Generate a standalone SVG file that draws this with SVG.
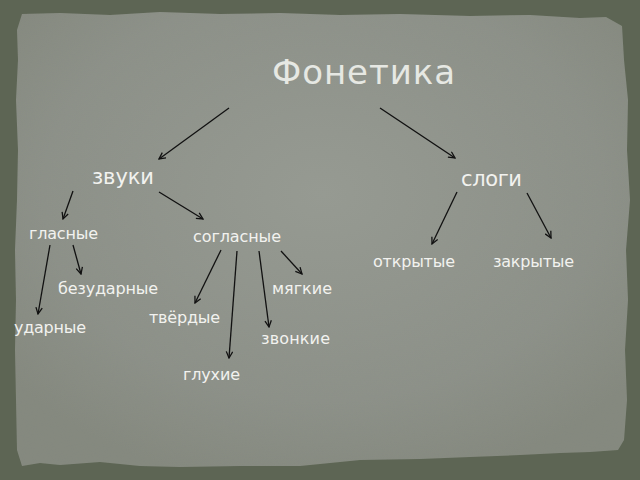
<svg xmlns="http://www.w3.org/2000/svg" width="640" height="480" viewBox="0 0 640 480">
<style>
.t{font-family:"DejaVu Sans","Noto Sans",sans-serif;fill:#f2f2ef;font-size:16px}
.big{font-size:21px}
.title{font-size:34px;fill:#e6e8e3}
.c line{stroke:#111;stroke-width:1.3;fill:none;marker-end:url(#ah)}
</style>
<defs>
<marker id="ah" viewBox="0 0 10 10" refX="9" refY="5" markerWidth="8" markerHeight="8" markerUnits="userSpaceOnUse" orient="auto">
<path d="M1,1 L9,5 L1,9" fill="none" stroke="#111" stroke-width="1.6"/>
</marker>
<radialGradient id="pg" cx="50%" cy="40%" r="65%">
<stop offset="0" stop-color="#969a92"/>
<stop offset="0.7" stop-color="#8c9088"/>
<stop offset="1" stop-color="#84887e"/>
</radialGradient>
<filter id="nz" x="0" y="0" width="100%" height="100%">
<feTurbulence type="fractalNoise" baseFrequency="0.9" numOctaves="2" seed="3" result="n"/>
<feColorMatrix type="matrix" values="0 0 0 0 0.3  0 0 0 0 0.32  0 0 0 0 0.28  0 0 0 0.1 0" in="n" result="c"/>
<feComposite in="c" in2="SourceGraphic" operator="in"/>
</filter>
</defs>
<rect id="bg" width="640" height="480" fill="#5d6554"/>
<g id="paper">
<path d="M22,14 L60,13 L110,15 L160,12 L220,14 L280,13 L340,15 L400,14 L470,16 L530,15 L580,18 L606,17 L622,26 L624,60 L628,100 L627,150 L630,200 L626,250 L628,300 L625,350 L627,400 L624,440 L618,450 L590,452 L560,453 L520,455 L470,457 L420,459 L360,460 L300,466 L240,466 L180,467 L140,466 L100,462 L60,465 L40,463 L22,466 L17,450 L16,400 L15,350 L16,300 L15,250 L17,200 L18,150 L16,100 L18,60 L17,30 Z" fill="url(#pg)"/>
<path d="M22,14 L60,13 L110,15 L160,12 L220,14 L280,13 L340,15 L400,14 L470,16 L530,15 L580,18 L606,17 L622,26 L624,60 L628,100 L627,150 L630,200 L626,250 L628,300 L625,350 L627,400 L624,440 L618,450 L590,452 L560,453 L520,455 L470,457 L420,459 L360,460 L300,466 L240,466 L180,467 L140,466 L100,462 L60,465 L40,463 L22,466 L17,450 L16,400 L15,350 L16,300 L15,250 L17,200 L18,150 L16,100 L18,60 L17,30 Z" fill="#888" filter="url(#nz)"/>
</g>
<g id="title"><text class="t title" x="272" y="84" textLength="183" lengthAdjust="spacing">Фонетика</text></g>
<g class="c" id="connectors">
<line x1="229" y1="108" x2="159" y2="159"/>
<line x1="380" y1="108" x2="455" y2="158"/>
<line x1="73" y1="191" x2="63" y2="219"/>
<line x1="159" y1="192" x2="203" y2="219"/>
<line x1="457" y1="192" x2="432" y2="244"/>
<line x1="527" y1="193" x2="551" y2="238"/>
<line x1="50" y1="245" x2="38" y2="314"/>
<line x1="73" y1="245" x2="81" y2="274"/>
<line x1="221" y1="250" x2="195" y2="303"/>
<line x1="237" y1="251" x2="229" y2="358"/>
<line x1="259" y1="251" x2="269" y2="327"/>
<line x1="281" y1="251" x2="302" y2="274"/>
</g>
<g id="zvuki"><text class="t big" x="92" y="184" textLength="62" lengthAdjust="spacing">звуки</text></g>
<g id="slogi"><text class="t big" x="461" y="186" textLength="61" lengthAdjust="spacing">слоги</text></g>
<g id="glasnye"><text class="t" x="29" y="239" textLength="69" lengthAdjust="spacing">гласные</text></g>
<g id="soglasnye"><text class="t" x="193" y="242" textLength="88" lengthAdjust="spacing">согласные</text></g>
<g id="otkrytye"><text class="t" x="373" y="267" textLength="82" lengthAdjust="spacing">открытые</text></g>
<g id="zakrytye"><text class="t" x="493" y="267" textLength="81" lengthAdjust="spacing">закрытые</text></g>
<g id="bezudarnye"><text class="t" x="58" y="294" textLength="100" lengthAdjust="spacing">безударные</text></g>
<g id="myagkie"><text class="t" x="272" y="294" textLength="60" lengthAdjust="spacing">мягкие</text></g>
<g id="tvyordye"><text class="t" x="149" y="323" textLength="71" lengthAdjust="spacing">твёрдые</text></g>
<g id="udarnye"><text class="t" x="14" y="333" textLength="72" lengthAdjust="spacing">ударные</text></g>
<g id="zvonkie"><text class="t" x="261" y="344" textLength="69" lengthAdjust="spacing">звонкие</text></g>
<g id="glukhie"><text class="t" x="183" y="380" textLength="57" lengthAdjust="spacing">глухие</text></g>
</svg>
